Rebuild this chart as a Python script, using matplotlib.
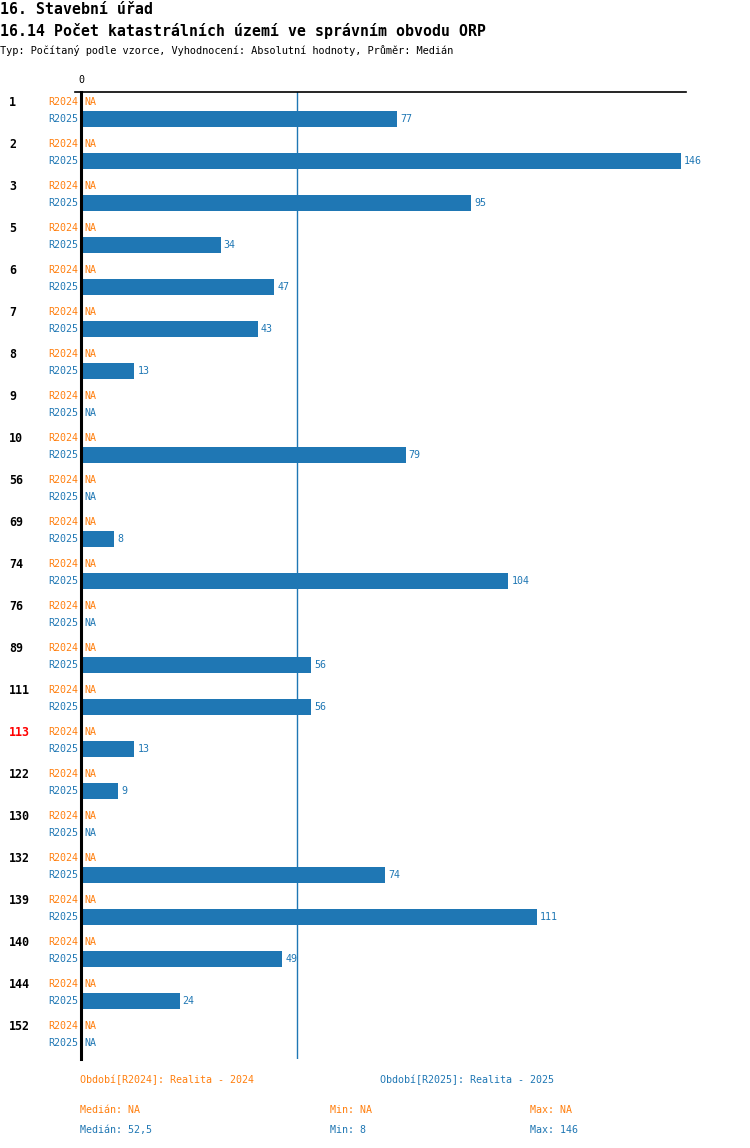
import matplotlib
matplotlib.use('Agg')
import matplotlib.pyplot as plt
import numpy as np

# data
groups = ['1', '2', '3', '5', '6', '7', '8', '9', '10', '56', '69', '74', '76',
          '89', '111', '113', '122', '130', '132', '139', '140', '144', '152']
r2024 = [None] * len(groups)
r2025 = [77, 146, 95, 34, 47, 43, 13, None, 79, None, 8, 104, None,
         56, 56, 13, 9, None, 74, 111, 49, 24, None]
highlight = '113'
median_2025 = 52.5

ORANGE = '#ff7f0e'
BLUE = '#1f77b4'
FONT = 'DejaVu Sans Mono'
plt.rcParams['font.family'] = FONT

W, H = 750, 1148
fig = plt.figure(figsize=(W / 100, H / 100), dpi=100)

# axes placed in pixel geometry of the reference
ax_left, ax_right, ax_top, ax_bottom = 81, 686, 92, 1059
ax = fig.add_axes([ax_left / W, 1 - ax_bottom / H, (ax_right - ax_left) / W, (ax_bottom - ax_top) / H])

px_per_unit = 600 / 146
xmax = (ax_right - ax_left) / px_per_unit
ax.set_xlim(0, xmax)
ax.set_ylim(ax_bottom - ax_top, 0)

step = 42
y24 = np.arange(len(groups)) * step + 10
y25 = np.arange(len(groups)) * step + 27

for i, g in enumerate(groups):
    # group label
    ax.text(-72 / px_per_unit, y24[i], g, ha='left', va='center', fontsize=8.4,
            fontweight='bold', color='red' if g == highlight else 'black', clip_on=False)
    ax.text(-3 / px_per_unit, y24[i], 'R2024', ha='right', va='center', fontsize=7.2,
            color=ORANGE, clip_on=False)
    ax.text(-3 / px_per_unit, y25[i], 'R2025', ha='right', va='center', fontsize=7.2,
            color=BLUE, clip_on=False)
    v = r2024[i]
    if v is None:
        ax.text(3 / px_per_unit, y24[i], 'NA', ha='left', va='center', fontsize=7.2, color=ORANGE)
    else:
        ax.barh(y24[i], v, height=16, color=ORANGE)
        ax.text(v + 3 / px_per_unit, y24[i], str(v), ha='left', va='center', fontsize=7.2, color=ORANGE)
    v = r2025[i]
    if v is None:
        ax.text(3 / px_per_unit, y25[i], 'NA', ha='left', va='center', fontsize=7.2, color=BLUE)
    else:
        ax.barh(y25[i], v, height=16, color=BLUE, left=0)
        ax.text(v + 3 / px_per_unit, y25[i], str(v), ha='left', va='center', fontsize=7.2, color=BLUE)

# median line
ax.axvline(median_2025, color=BLUE, lw=1.0, zorder=0)

for s in ['right', 'bottom']:
    ax.spines[s].set_visible(False)
ax.spines['left'].set_linewidth(2.2)
ax.spines['top'].set_linewidth(1.2)
ax.spines['left'].set_zorder(5)
ax.set_xticks([])
ax.set_yticks([])
ax.text(0, -12, '0', ha='center', va='center', fontsize=7.2, clip_on=False)
# short extension of top line left of zero
ax.plot([-6 / px_per_unit, 0], [0, 0], color='black', lw=1.2, clip_on=False)

# titles
fig.text(0 / W, 1 - 10 / H, '16. Stavební úřad', ha='left', va='center', fontsize=10.7, fontweight='bold')
fig.text(0 / W, 1 - 31 / H, '16.14 Počet katastrálních území ve správním obvodu ORP',
         ha='left', va='center', fontsize=10.7, fontweight='bold')
fig.text(0 / W, 1 - 51 / H, 'Typ: Počítaný podle vzorce, Vyhodnocení: Absolutní hodnoty, Průměr: Medián',
         ha='left', va='center', fontsize=7.4)

# legend and stats
fig.text(80 / W, 1 - 1080 / H, 'Období[R2024]: Realita - 2024', ha='left', va='center', fontsize=7.2, color=ORANGE)
fig.text(380 / W, 1 - 1080 / H, 'Období[R2025]: Realita - 2025', ha='left', va='center', fontsize=7.2, color=BLUE)
fig.text(80 / W, 1 - 1110 / H, 'Medián: NA', ha='left', va='center', fontsize=7.2, color=ORANGE)
fig.text(330 / W, 1 - 1110 / H, 'Min: NA', ha='left', va='center', fontsize=7.2, color=ORANGE)
fig.text(530 / W, 1 - 1110 / H, 'Max: NA', ha='left', va='center', fontsize=7.2, color=ORANGE)
vals = [v for v in r2025 if v is not None]
fig.text(80 / W, 1 - 1130 / H, 'Medián: ' + f'{np.median(vals):g}'.replace('.', ','), ha='left', va='center',
         fontsize=7.2, color=BLUE)
fig.text(330 / W, 1 - 1130 / H, f'Min: {min(vals)}', ha='left', va='center', fontsize=7.2, color=BLUE)
fig.text(530 / W, 1 - 1130 / H, f'Max: {max(vals)}', ha='left', va='center', fontsize=7.2, color=BLUE)

fig.savefig('out.png', dpi=100)
